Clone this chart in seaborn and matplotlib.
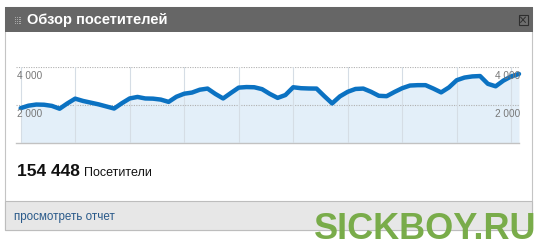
import matplotlib
matplotlib.use("Agg")
import matplotlib.pyplot as plt
from matplotlib.patches import Rectangle
from matplotlib.lines import Line2D
import pandas as pd
import seaborn as sns

# ---- data ----
visitors = [1850, 1980, 2040, 2030, 1970, 1820, 2100,
            2350, 2230, 2140, 2050, 1940, 1830, 2110,
            2360, 2440, 2360, 2350, 2300, 2180, 2450,
            2610, 2670, 2820, 2880, 2600, 2360, 2650,
            2930, 2960, 2950, 2850, 2600, 2390, 2540,
            2950, 2900, 2885, 2880, 2480, 2100, 2470,
            2710, 2860, 2880, 2710, 2500, 2480, 2700,
            2900, 3040, 3060, 3060, 2880, 2680, 2940,
            3320, 3460, 3520, 3540, 3130, 3000, 3300,
            3520, 3650]
days = list(range(len(visitors)))
y_ticks = [2000, 4000]
week_ticks = list(range(0, len(visitors), 7))
title = "Обзор посетителей"
total = "154 448"
total_label = "Посетители"
link_text = "просмотреть отчет"
watermark = "SICKBOY.RU"

df = pd.DataFrame({"day": days, "visitors": visitors})

sns.set_style("white")
plt.rcParams["font.family"] = ["Liberation Sans", "DejaVu Sans"]

W, H = 540, 240
fig = plt.figure(figsize=(W / 100, H / 100), dpi=100)
fig.patch.set_facecolor("white")


def rect(x, y, w, h, **kw):
    r = Rectangle((x / W, 1 - (y + h) / H), w / W, h / H,
                  transform=fig.transFigure, **kw)
    fig.add_artist(r)
    return r


def fline(x0, y0, x1, y1, **kw):
    fig.add_artist(Line2D([x0 / W, x1 / W], [1 - y0 / H, 1 - y1 / H],
                          transform=fig.transFigure, **kw))


# widget frame
rect(5, 7, 527, 223, facecolor="white", edgecolor="#c4c4c4", lw=0.8, zorder=0)
# header
rect(5, 7.3, 527.5, 24.4, facecolor="#666666", edgecolor="none", zorder=0.5)
# grip icon
for i in range(4):
    for j in range(4):
        rect(15 + i * 1.8, 16.5 + j * 2.2, 1.0, 1.0, facecolor="#a8a8a8",
             edgecolor="none", zorder=0.6)
# close icon
rect(518.5, 15, 9, 9.5, facecolor="#6e6e6e", edgecolor="#2e2e2e", lw=0.8, zorder=0.6)
fline(520.5, 17, 525.5, 22.5, color="#2e2e2e", lw=0.7, zorder=0.7)
fline(520.5, 22.5, 525.5, 17, color="#2e2e2e", lw=0.7, zorder=0.7)
# footer
rect(5, 200.7, 527, 29.3, facecolor="#e7e7e7", edgecolor="#bdbdbd", lw=0.8, zorder=0.5)

# ---- chart ----
ax = fig.add_axes([16 / W, 1 - 143.3 / H, (519 - 16) / W, 76 / H])
ax.set_zorder(1)
ax.patch.set_alpha(0)
ax.fill_between(df["day"], df["visitors"], 0, color="#e3eff9", lw=0, zorder=1)
sns.lineplot(data=df, x="day", y="visitors", ax=ax, color="#0b72c2", lw=3.2,
             zorder=3)
for ln in ax.lines:
    ln.set_clip_on(False)
    ln.set_solid_joinstyle("round")

ax.set_xlim(-0.6, 64)
ax.set_ylim(0, 4000)
ax.set_xticks(week_ticks)
ax.set_yticks([])
ax.tick_params(axis="x", length=0, labelbottom=False)
ax.set_xlabel("")
ax.set_ylabel("")
ax.grid(axis="x", color="#d5dde5", lw=0.8, zorder=2)
ax.set_axisbelow(False)
for yv in y_ticks:
    ax.axhline(yv, color="#b0b0b0", lw=0.8, ls=(0, (1, 1.2)), zorder=2.5)
for s in ["top", "left", "right"]:
    ax.spines[s].set_visible(False)
ax.spines["bottom"].set_color("#c2c2c2")
ax.spines["bottom"].set_linewidth(1.0)

for yv in y_ticks:
    lab = f"{yv:,}".replace(",", " ")
    ax.annotate(lab, xy=(0, yv), xycoords=("axes fraction", "data"),
                xytext=(1.0, -6.1), textcoords="offset points",
                ha="left", va="center", fontsize=7.2, color="#777777", zorder=4)
    ax.annotate(lab, xy=(1, yv), xycoords=("axes fraction", "data"),
                xytext=(1.2, -6.1), textcoords="offset points",
                ha="right", va="center", fontsize=7.2, color="#777777", zorder=4)

# ---- texts ----
fig.text(27 / W, 1 - 20.3 / H, title, color="white", fontsize=10.5,
         fontweight="bold", ha="left", va="center", zorder=5)
fig.text(16.6 / W, 1 - 176.5 / H, total, color="#111111", fontsize=12.5,
         fontweight="bold", ha="left", va="baseline", zorder=5)
fig.text(84 / W, 1 - 176.5 / H, total_label, color="#111111", fontsize=9,
         ha="left", va="baseline", zorder=5)
fig.text(14.5 / W, 1 - 219.7 / H, link_text, color="#2a5a8a", fontsize=8.4,
         ha="left", va="baseline", zorder=5)
fig.text(536 / W, 1 - 239.3 / H, watermark, color="#79ac4a", fontsize=26,
         fontweight="bold", ha="right", va="baseline", zorder=6)

fig.savefig("out.png", dpi=100, facecolor="white")
